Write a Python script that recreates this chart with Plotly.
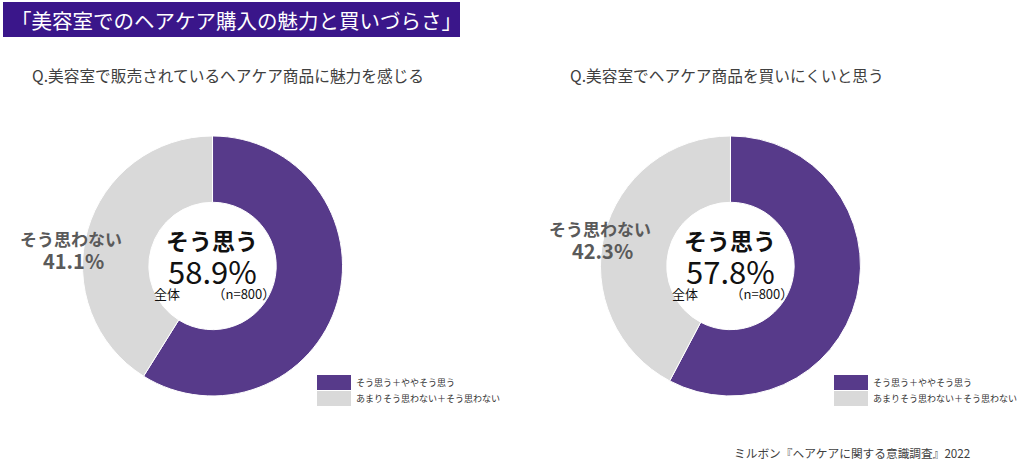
import plotly.graph_objects as go

# data
labels = ["そう思う＋ややそう思う", "あまりそう思わない＋そう思わない"]
q1_values = [58.9, 41.1]
q2_values = [57.8, 42.3]
questions = ["Q.美容室で販売されているヘアケア商品に魅力を感じる", "Q.美容室でヘアケア商品を買いにくいと思う"]
n_total = 800

colors = ["#573a8a", "#d9d9d9"]
font_jp = "Noto Sans CJK JP"
W, H = 1024, 472

fig = go.Figure()


def note(x, y, text, size, color, xanchor="center", family=font_jp):
    # x, y in pixels from the top-left corner
    fig.add_annotation(x=x / W, y=1 - y / H, xref="paper", yref="paper",
                       text=text, showarrow=False, xanchor=xanchor, yanchor="middle",
                       font=dict(family=family, size=size, color=color))


# (domain x, center px x, question x px, legend x px, gray label x px, gray label y px)
panels = [
    ([0.0806, 0.3345], 212, 30, 317, 71, 238),
    ([0.5864, 0.8403], 730, 568, 834, 600, 228),
]
values = [q1_values, q2_values]

for i, (dom, cx, qx, lx, glx, gly) in enumerate(panels):
    vals = values[i]
    fig.add_trace(go.Pie(
        labels=labels, values=vals, hole=0.49, sort=False,
        direction="clockwise", rotation=0,
        marker=dict(colors=colors, line=dict(color="white", width=1)),
        textinfo="none", hoverinfo="label+percent", showlegend=False,
        domain=dict(x=dom, y=[0.161, 0.712]),
    ))
    note(qx, 75, questions[i], 15.7, "#404040", xanchor="left")
    # centre texts
    note(cx, 240, "<b>そう思う</b>", 23, "#111111")
    note(cx, 270, "%.1f%%" % vals[0], 31, "#111111")
    note(cx + 2, 293, "全体　　　（n=%d）" % n_total, 13, "#111111")
    # outside label for gray slice
    note(glx, gly, "<b>そう思わない</b>", 17, "#5a5a5a")
    note(glx + 2, gly + 22, "<b>%.1f%%</b>" % vals[1], 20, "#5a5a5a")
    # legend boxes
    for k, lab in enumerate(labels):
        y0 = 375 + k * 16
        fig.add_shape(type="rect", xref="paper", yref="paper",
                      x0=lx / W, x1=(lx + 34) / W, y0=1 - (y0 + 15) / H, y1=1 - y0 / H,
                      fillcolor=colors[k], line=dict(width=0))
        note(lx + 37, y0 + 7.5, lab, 9, "#333333", xanchor="left")

# title banner
fig.add_shape(type="rect", xref="paper", yref="paper",
              x0=3 / W, x1=460 / W, y0=1 - 37 / H, y1=1 - 2 / H,
              fillcolor="#3a168a", line=dict(width=0))
note(9, 20, "「美容室でのヘアケア購入の魅力と買いづらさ」", 20.5, "white", xanchor="left")

# source
note(972, 452, "ミルボン『ヘアケアに関する意識調査』2022", 11.7, "#404040", xanchor="right")

fig.update_layout(width=W, height=H, margin=dict(l=0, r=0, t=0, b=0),
                  paper_bgcolor="white", plot_bgcolor="white")
fig.write_html("out.html", config={"displayModeBar": False},
               post_script="document.body.style.margin='0';")
